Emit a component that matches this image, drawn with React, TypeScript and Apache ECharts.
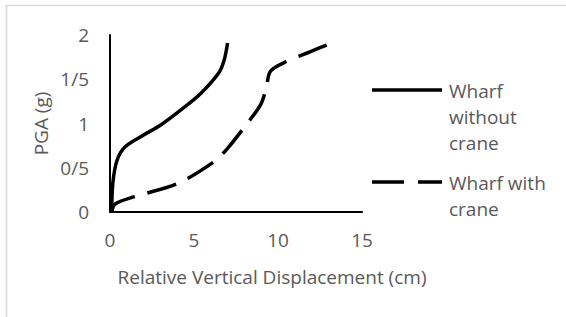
import React, { useEffect, useRef } from "react";
import * as echarts from "echarts";

const xTicks = [0, 5, 10, 15];
const yTickLabels: Record<string, string> = { "0": "0", "0.5": "0/5", "1": "1", "1.5": "1/5", "2": "2" };

const seriesNames = ["Wharf without crane", "Wharf with crane"];
const legendLabels = ["Wharf\nwithout\ncrane", "Wharf with\ncrane"];

const withoutCrane: [number, number][] = [
  [0.1, 0.0],
  [0.17, 0.33],
  [0.43, 0.59],
  [0.92, 0.74],
  [2.0, 0.87],
  [3.0, 0.98],
  [4.2, 1.15],
  [5.4, 1.34],
  [6.5, 1.58],
  [6.8, 1.72],
  [7.0, 1.91],
];

const withCrane: [number, number][] = [
  [0.1, 0.0],
  [0.3, 0.09],
  [1.4, 0.17],
  [4.0, 0.32],
  [6.2, 0.57],
  [7.0, 0.72],
  [8.0, 0.96],
  [8.96, 1.21],
  [9.3, 1.4],
  [9.55, 1.59],
  [10.5, 1.7],
  [11.9, 1.81],
  [13.2, 1.91],
];

const FONT = "'Open Sans', sans-serif";
const GRAY = "#595959";
const FS = 19;

export default function App() {
  const ref = useRef<HTMLDivElement>(null);
  useEffect(() => {
    if (!ref.current) return;
    const chart = echarts.init(ref.current, undefined, { renderer: "svg" });
    chart.setOption({
      animation: false,
      backgroundColor: "#fff",
      grid: { left: 110, right: 204, top: 35, bottom: 105 },
      xAxis: {
        type: "value",
        min: xTicks[0],
        max: xTicks[xTicks.length - 1],
        interval: 5,
        name: "Relative Vertical Displacement (cm)",
        nameLocation: "middle",
        nameGap: 55,
        nameTextStyle: { color: GRAY, fontFamily: FONT, fontSize: FS, padding: [0, 0, 0, 72] },
        axisLine: { lineStyle: { color: "#000", width: 2 } },
        axisTick: { show: false },
        splitLine: { show: false },
        axisLabel: { color: GRAY, fontFamily: FONT, fontSize: FS, margin: 18 },
      },
      yAxis: {
        type: "value",
        min: 0,
        max: 2,
        interval: 0.5,
        name: "PGA (g)",
        nameLocation: "middle",
        nameGap: 60,
        nameTextStyle: { color: GRAY, fontFamily: FONT, fontSize: FS },
        axisLine: { show: true, lineStyle: { color: "#000", width: 2 } },
        axisTick: { show: false },
        splitLine: { show: false },
        axisLabel: {
          color: GRAY,
          fontFamily: FONT,
          fontSize: FS,
          margin: 21,
          formatter: (v: number) => yTickLabels[String(v)] ?? String(v),
        },
      },
      series: [
        {
          name: seriesNames[0],
          type: "line",
          data: withoutCrane,
          smooth: 0.3,
          symbol: "none",
          lineStyle: { color: "#000", width: 3.5 },
        },
        {
          name: seriesNames[1],
          type: "line",
          data: withCrane,
          smooth: 0.3,
          symbol: "none",
          lineStyle: { color: "#000", width: 3.5, type: [30, 13] },
        },
      ],
      graphic: [
        {
          type: "rect",
          shape: { x: 6.5, y: 5.5, width: 700, height: 400 },
          style: { fill: "none", stroke: "#d9d9d9", lineWidth: 1.5 },
          silent: true,
        },
        {
          type: "line",
          shape: { x1: 372, y1: 90, x2: 442, y2: 90 },
          style: { stroke: "#000", lineWidth: 3.5 },
        },
        {
          type: "text",
          x: 449,
          y: 78,
          style: {
            text: legendLabels[0],
            fill: GRAY,
            font: `${FS}px ${FONT}`,
            lineHeight: 26,
            verticalAlign: "top",
            align: "left",
          },
        },
        {
          type: "line",
          shape: { x1: 372, y1: 182, x2: 442, y2: 182 },
          style: { stroke: "#000", lineWidth: 3.5, lineDash: [32, 14] },
        },
        {
          type: "text",
          x: 449,
          y: 170,
          style: {
            text: legendLabels[1],
            fill: GRAY,
            font: `${FS}px ${FONT}`,
            lineHeight: 26,
            verticalAlign: "top",
            align: "left",
          },
        },
      ],
    });
    return () => chart.dispose();
  }, []);
  return (
    <div
      ref={ref}
      style={{ position: "fixed", left: 0, top: 0, width: 566, height: 317 }}
    />
  );
}
